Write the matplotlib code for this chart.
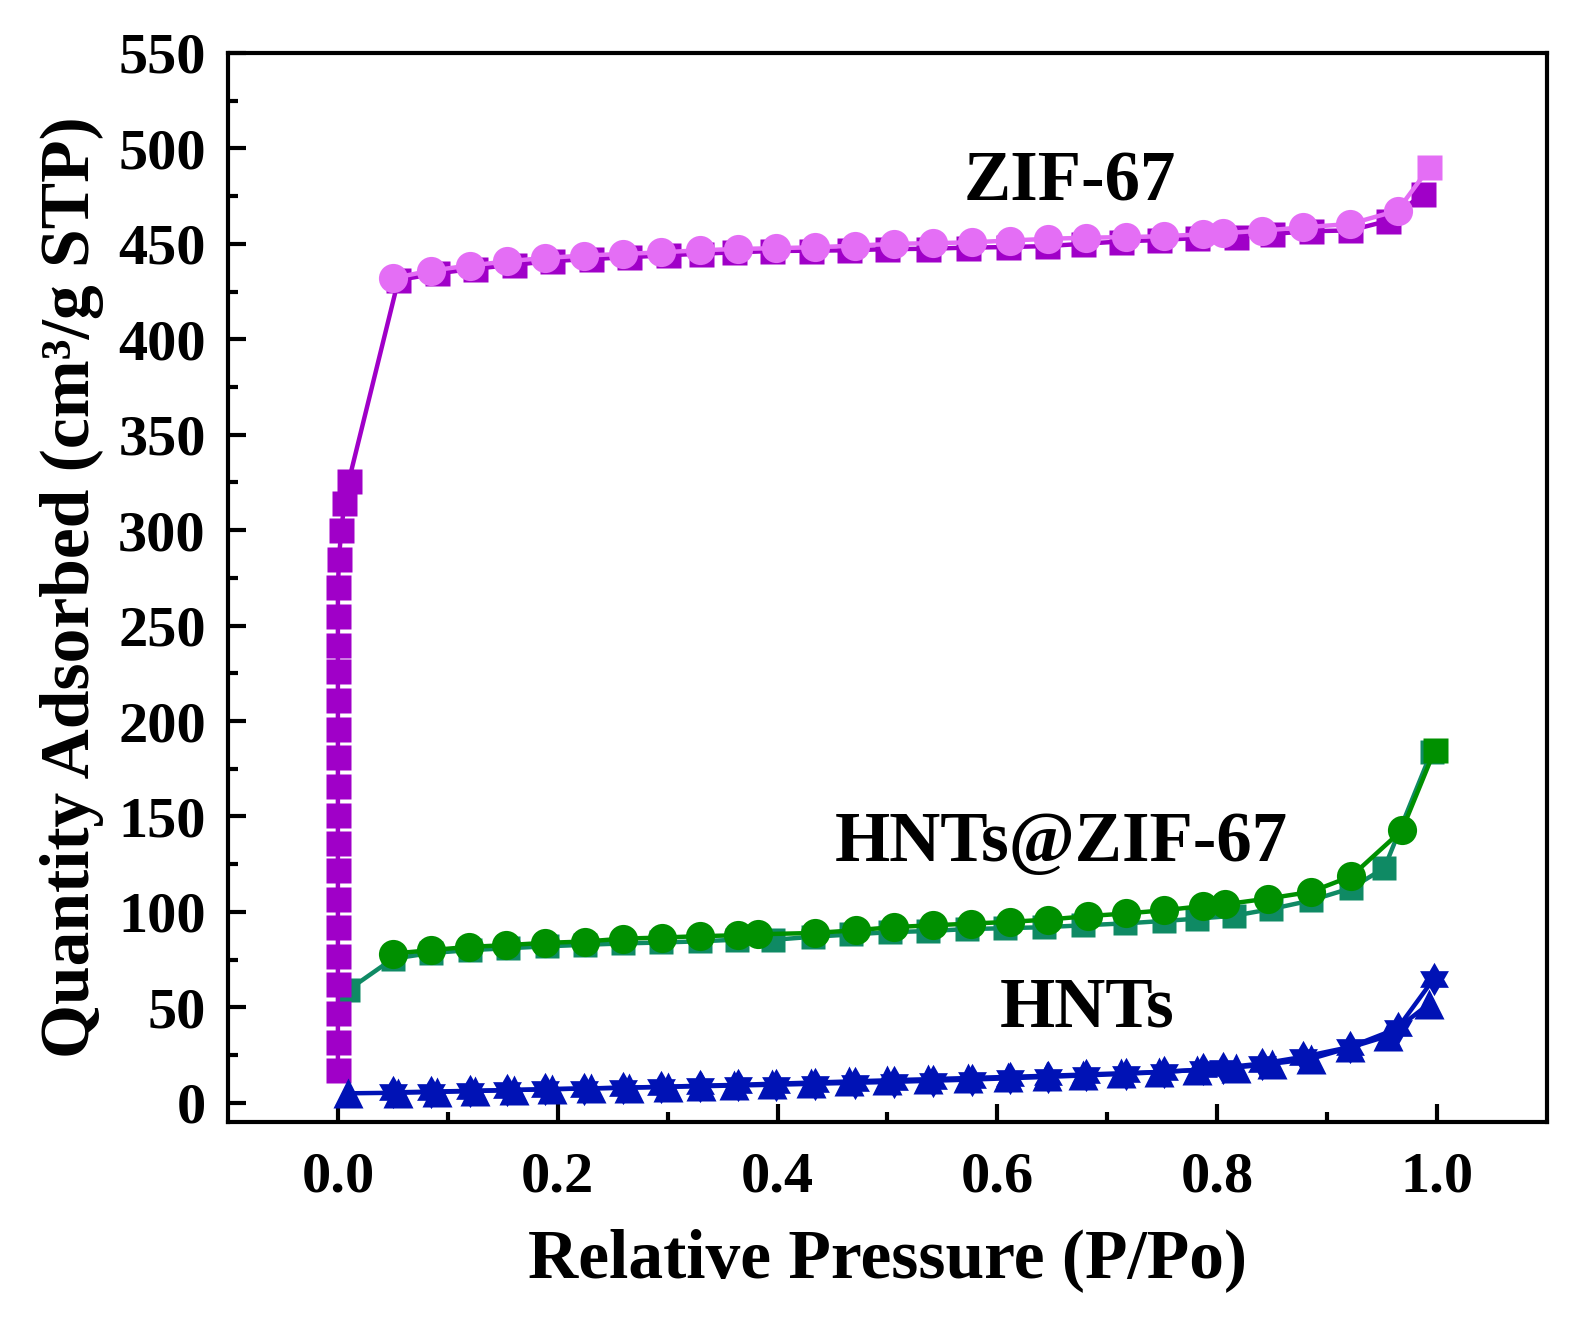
import numpy as np
import matplotlib
matplotlib.use('Agg')
import matplotlib.pyplot as plt
from matplotlib.path import Path
from matplotlib.ticker import MultipleLocator, FixedLocator

plt.rcParams['font.family'] = ['Liberation Serif', 'DejaVu Serif']
plt.rcParams['font.weight'] = 'bold'

# ZIF-67 吸附 / 脱附
zif_ads_x = [0.000, 0.000, 0.000, 0.000, 0.000, 0.000, 0.000, 0.000, 0.000, 0.000, 0.000,
             0.000, 0.000, 0.000, 0.000, 0.000, 0.000, 0.000, 0.001, 0.003, 0.006, 0.010,
             0.055, 0.090, 0.125, 0.160, 0.195, 0.230, 0.265, 0.300, 0.330, 0.360, 0.395,
             0.430, 0.465, 0.500, 0.537, 0.573, 0.610, 0.645, 0.678, 0.712, 0.747, 0.782,
             0.817, 0.850, 0.885, 0.921, 0.955, 0.987]
zif_ads_y = [17, 32, 47, 62, 77, 92, 107, 122, 136, 151, 166,
             181, 196, 211, 226, 240, 255, 270, 285, 300, 314, 326,
             431, 434.5, 437, 439, 441, 442, 443, 444, 444.8, 445.5, 446.2,
             446.4, 446.6, 447.2, 447.4, 448.0, 448.3, 448.8, 450.0, 451.2, 452.0, 453.0,
             453.8, 455.2, 456.6, 457.0, 462.0, 476.0]

zif_des_x = [0.993, 0.964, 0.921, 0.878, 0.841, 0.805, 0.787, 0.752, 0.717, 0.681,
             0.646, 0.611, 0.577, 0.541, 0.506, 0.470, 0.434, 0.399, 0.364, 0.329,
             0.294, 0.259, 0.224, 0.188, 0.154, 0.120, 0.085, 0.050]
zif_des_y = [490, 467.4, 460.4, 458.6, 456.9, 455.5, 455.0, 454.0, 453.5, 453.2,
             452.6, 451.7, 450.8, 450.3, 450.0, 449.0, 448.2, 447.7, 447.3, 446.6,
             445.5, 444.7, 443.8, 442.6, 440.8, 438.6, 436.0, 432.0]

# HNTs@ZIF-67
hz_ads_x = [0.009, 0.050, 0.085, 0.120, 0.155, 0.190, 0.225, 0.259, 0.294, 0.329,
            0.363, 0.396, 0.432, 0.467, 0.502, 0.537, 0.572, 0.607, 0.642, 0.678,
            0.716, 0.752, 0.782, 0.815, 0.849, 0.885, 0.922, 0.952, 0.995]
hz_ads_y = [59, 75.5, 78.5, 80, 81, 82, 82.8, 83.5, 84, 84.6,
            85.5, 85.4, 87, 88.2, 89.4, 90, 91, 91.5, 92, 93,
            94, 95.3, 96.5, 98, 101.5, 106, 112.5, 123, 184]

hz_des_x = [0.998, 0.968, 0.922, 0.885, 0.846, 0.807, 0.787, 0.752, 0.717, 0.682,
            0.646, 0.611, 0.576, 0.541, 0.506, 0.471, 0.434, 0.382, 0.364, 0.329,
            0.295, 0.259, 0.225, 0.188, 0.153, 0.119, 0.085, 0.050]
hz_des_y = [185, 142.8, 118.7, 110.5, 107, 104, 103.1, 100.9, 99.2, 97.8,
            96, 94.8, 93.9, 93, 92.1, 90.4, 89, 88.3, 87.8, 87.3,
            86.6, 86, 84.5, 83.8, 82.6, 81.7, 80, 78.2]

# HNTs
hnt_ads_x = [0.009, 0.055, 0.090, 0.125, 0.160, 0.195, 0.230, 0.265, 0.300, 0.330,
             0.360, 0.395, 0.430, 0.465, 0.500, 0.537, 0.573, 0.610, 0.645, 0.678,
             0.712, 0.747, 0.782, 0.817, 0.850, 0.885, 0.921, 0.955, 0.993]
hnt_ads_y = [5, 5.3, 5.7, 6.2, 6.7, 7.2, 7.6, 8.0, 8.5, 9.0,
             9.4, 10, 10.6, 11.2, 11.8, 12.4, 13, 13.6, 14.2, 14.8,
             15.5, 16.2, 17.2, 18.5, 20.5, 23, 29, 35, 52]

hnt_des_x = [0.997, 0.964, 0.921, 0.878, 0.841, 0.805, 0.787, 0.752, 0.717, 0.681,
             0.646, 0.611, 0.577, 0.541, 0.506, 0.470, 0.434, 0.399, 0.364, 0.329,
             0.294, 0.259, 0.224, 0.188, 0.154, 0.120, 0.085, 0.050]
hnt_des_y = [65, 39, 29.3, 24.1, 20.6, 18.5, 17.5, 16.2, 15.2, 14.4,
             13.6, 12.9, 12.2, 11.6, 11.0, 10.5, 10.0, 9.5, 9.1, 8.7,
             8.3, 7.9, 7.5, 7.1, 6.7, 6.3, 5.9, 5.5]

c_zif_ads = '#a000c8'
c_zif_des = '#e46ef5'
c_hz_ads = '#0f8a64'
c_hz_des = '#009000'
c_hnt = '#0012b5'

# 六角星标记
hexagram = Path.unit_regular_star(6, 0.577)

fig = plt.figure(figsize=(15.81, 13.19), dpi=100)
ax = fig.add_axes([0.1442, 0.1494, 0.8343, 0.8105])

lw = 3.2
# HNTs@ZIF-67
ax.plot(hz_ads_x, hz_ads_y, '-', color=c_hz_ads, lw=lw, marker='s', ms=17, mec='none', zorder=2)
ax.plot(hz_des_x, hz_des_y, '-', color=c_hz_des, lw=lw, zorder=3)
ax.plot(hz_des_x[1:], hz_des_y[1:], 'o', color=c_hz_des, ms=21, mec='none', zorder=3)
ax.plot(hz_des_x[:1], hz_des_y[:1], 's', color=c_hz_des, ms=18, mec='none', zorder=3)

# ZIF-67
ax.plot(zif_ads_x, zif_ads_y, '-', color=c_zif_ads, lw=lw, marker='s', ms=18, mec='none', zorder=4)
ax.plot(zif_des_x, zif_des_y, '-', color=c_zif_des, lw=lw, zorder=5)
ax.plot(zif_des_x[1:], zif_des_y[1:], 'o', color=c_zif_des, ms=21, mec='none', zorder=5)
ax.plot(zif_des_x[:1], zif_des_y[:1], 's', color=c_zif_des, ms=18, mec='none', zorder=5)

# HNTs
ax.plot(hnt_ads_x, hnt_ads_y, '-', color=c_hnt, lw=lw, marker='^', ms=21, mec='none', zorder=6)
ax.plot(hnt_des_x, hnt_des_y, '-', color=c_hnt, lw=lw, marker=hexagram, ms=24, mec='none', zorder=7)

ax.set_xlim(-0.1, 1.1)
ax.set_ylim(-10, 550)
ax.xaxis.set_major_locator(FixedLocator([0.0, 0.2, 0.4, 0.6, 0.8, 1.0]))
ax.xaxis.set_minor_locator(FixedLocator([0.1, 0.3, 0.5, 0.7, 0.9]))
ax.yaxis.set_major_locator(MultipleLocator(50))
ax.yaxis.set_minor_locator(MultipleLocator(25))
ax.set_xticklabels(['0.0', '0.2', '0.4', '0.6', '0.8', '1.0'])

ax.tick_params(which='both', direction='in', top=False, right=False, width=3)
ax.tick_params(which='major', length=13, labelsize=42)
ax.tick_params(which='minor', length=7)
ax.tick_params(axis='y', which='major', pad=16)
ax.tick_params(axis='x', which='major', pad=21)
for sp in ax.spines.values():
    sp.set_linewidth(3)

for lab in ax.get_xticklabels() + ax.get_yticklabels():
    lab.set_fontweight('bold')

ax.set_xlabel('Relative Pressure (P/Po)', fontsize=50, fontweight='bold', labelpad=18)
ax.set_ylabel('Quantity Adsorbed (cm³/g STP)', fontsize=50, fontweight='bold', labelpad=10)

ax.text(0.666, 482, 'ZIF-67', fontsize=51, fontweight='bold', ha='center', va='center')
ax.text(0.658, 136, 'HNTs@ZIF-67', fontsize=51, fontweight='bold', ha='center', va='center')
ax.text(0.682, 49, 'HNTs', fontsize=51, fontweight='bold', ha='center', va='center')

fig.savefig('out.png', dpi=100)
